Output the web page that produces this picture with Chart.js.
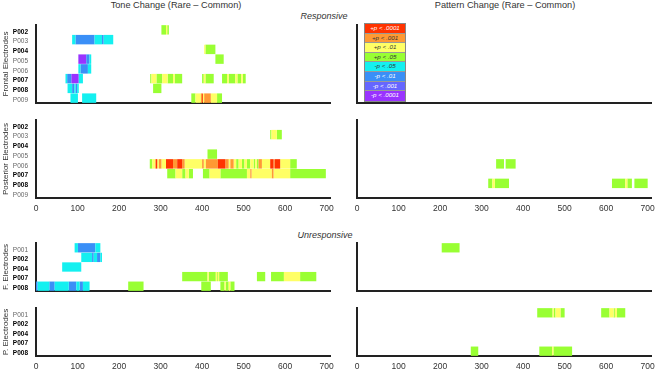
<!DOCTYPE html>
<html><head><meta charset="utf-8">
<script src="https://cdn.jsdelivr.net/npm/chart.js@4.4.1/dist/chart.umd.min.js"></script>
<style>
body{margin:0;background:#fff;width:656px;height:372px;overflow:hidden;position:relative;font-family:'Liberation Sans',Arial,sans-serif}
canvas{position:absolute}
.t{position:absolute;white-space:nowrap;color:#333;transform:translateX(-50%);line-height:1}
#legend{position:absolute;left:364px;top:23px;width:42px;border:1px solid #888;box-sizing:border-box}
#legend div{height:9.6px;box-sizing:border-box;border-bottom:1px solid #999;font-style:italic;font-size:6.2px;line-height:8.6px;text-align:center}
</style></head><body>
<div class="t" style="left:176px;top:1px;font-size:9.2px">Tone Change (Rare – Common)</div>
<div class="t" style="left:505px;top:1px;font-size:9.2px">Pattern Change (Rare – Common)</div>
<div class="t" style="left:324px;top:12px;font-size:9px;font-style:italic">Responsive</div>
<div class="t" style="left:325px;top:230.5px;font-size:9px;font-style:italic">Unresponsive</div>
<div id="legend"></div>
<canvas id="c1"></canvas><canvas id="c2"></canvas><canvas id="c3"></canvas><canvas id="c4"></canvas>
<canvas id="c5"></canvas><canvas id="c6"></canvas><canvas id="c7"></canvas><canvas id="c8"></canvas>
<script>
// ---------- data ----------
const respElectrodes = ['P002','P003','P004','P005','P006','P007','P008','P009'];
const respBold = [true,false,true,false,false,true,true,false];
const unrespElectrodes = ['P001','P002','P004','P007','P008'];
const unrespBold = [false,true,true,true,true];
const xTickValues = [0,100,200,300,400,500,600,700];
// significance levels: +4 +p<.0001, +3 +p<.001, +2 +p<.01, +1 +p<.05, -1 -p<.05, -2 -p<.01, -3 -p<.001, -4 -p<.0001
const levels = [4,3,2,1,-1,-2,-3,-4];
const levelLabels = ['+p < .0001','+p < .001','+p < .01','+p < .05','-p < .05','-p < .01','-p < .001','-p < .0001'];
const levelColors = ['#FF3300','#FF9933','#FFFF66','#99FF33','#14F0F0','#3A8FF7','#6666FF','#9933FF'];
const levelTextColors = ['#fff','#333','#333','#333','#333','#fff','#fff','#fff'];

// segments: [electrode, start ms, end ms, level]
const toneFrontalResp = [
 ['P002',302,313,1],['P002',313,316,2],['P002',316,320,1],
 ['P003',87,95,-1],['P003',95,141,-2],['P003',141,159,-1],['P003',159,163,-2],['P003',163,186,-1],
 ['P004',405,408,2],['P004',408,432,1],
 ['P005',102,121,-4],['P005',121,129,-2],['P005',129,133,-1],['P005',432,452,1],
 ['P006',102,107,-1],['P006',107,125,-2],['P006',125,133,-1],
 ['P007',71,75,-1],['P007',75,85,-2],['P007',85,103,-4],['P007',103,113,-1],
 ['P007',275,278,1],['P007',278,290,2],['P007',290,304,1],['P007',304,317,2],['P007',317,330,1],['P007',330,334,2],['P007',334,352,1],
 ['P007',400,404,1],['P007',404,408,2],['P007',408,428,1],
 ['P007',448,460,1],['P007',460,464,2],['P007',464,480,1],['P007',480,485,2],['P007',485,494,1],['P007',494,498,2],['P007',498,505,1],
 ['P008',76,87,-1],['P008',87,92,-2],['P008',92,95,-1],['P008',95,99,-2],['P008',99,103,-1],['P008',282,302,1],
 ['P009',83,101,-1],['P009',111,145,-1],
 ['P009',374,384,1],['P009',384,397,2],['P009',397,400,3],['P009',400,402,4],['P009',402,405,2],['P009',405,421,3],['P009',421,436,2],['P009',436,448,1]
];
const tonePosteriorResp = [
 ['P003',564,567,1],['P003',567,580,2],['P003',580,592,1],
 ['P005',413,436,1],
 ['P006',274,280,1],['P006',280,288,2],['P006',288,292,4],['P006',292,296,2],['P006',296,302,3],['P006',302,313,2],
 ['P006',313,330,4],['P006',330,340,3],['P006',340,352,4],['P006',352,358,3],['P006',358,400,2],['P006',400,404,3],
 ['P006',404,409,2],['P006',409,438,3],['P006',438,456,4],['P006',456,464,3],['P006',464,468,2],['P006',468,476,3],
 ['P006',476,482,2],['P006',482,488,1],['P006',488,496,2],['P006',496,502,1],['P006',502,508,2],['P006',508,516,1],
 ['P006',516,524,2],['P006',524,528,1],['P006',528,532,2],['P006',532,536,1],['P006',536,544,3],['P006',544,564,2],
 ['P006',564,572,4],['P006',572,575,3],['P006',575,588,4],['P006',588,612,2],['P006',612,628,1],
 ['P007',316,336,1],['P007',336,352,2],['P007',352,360,1],['P007',360,368,2],['P007',368,378,1],
 ['P007',402,418,1],['P007',418,444,2],['P007',444,508,1],['P007',508,516,2],['P007',516,519,3],['P007',519,568,2],
 ['P007',568,572,3],['P007',572,612,2],['P007',612,698,1]
];
const patternFrontalResp = [];
const patternPosteriorResp = [
 ['P006',335,354,1],['P006',358,382,1],
 ['P008',316,326,1],['P008',326,332,2],['P008',332,366,1],
 ['P008',614,646,1],['P008',646,651,2],['P008',651,662,1],['P008',668,700,1]
];
const toneFrontalUnresp = [
 ['P001',93,101,-1],['P001',101,143,-2],['P001',143,155,-1],
 ['P002',109,135,-1],['P002',135,139,-2],['P002',139,147,-1],['P002',147,155,-2],['P002',155,159,-1],
 ['P004',63,109,-1],
 ['P007',352,413,1],['P007',413,416,2],['P007',416,433,1],['P007',433,436,2],['P007',436,438,1],['P007',438,441,2],['P007',441,462,1],
 ['P007',532,552,1],['P007',566,597,1],['P007',597,636,2],['P007',636,675,1],
 ['P008',0,4,-2],['P008',4,32,-1],['P008',32,45,-2],['P008',45,79,-1],['P008',79,97,-2],['P008',97,105,-1],['P008',105,113,-2],['P008',113,129,-1],
 ['P008',222,259,1],['P008',398,421,1],
 ['P008',444,454,1],['P008',454,457,2],['P008',457,464,1],['P008',464,468,2],['P008',468,478,1]
];
const tonePosteriorUnresp = [];
const patternFrontalUnresp = [
 ['P001',204,247,1]
];
const patternPosteriorUnresp = [
 ['P001',434,471,1],['P001',471,474,2],['P001',474,478,1],['P001',478,490,2],['P001',490,500,1],
 ['P001',588,608,1],['P001',608,618,2],['P001',618,621,1],['P001',621,626,2],['P001',626,646,1],
 ['P008',274,292,1],['P008',439,470,1],['P008',470,473,2],['P008',473,518,1]
];

// ---------- rendering ----------
Chart.defaults.font.family = "'Liberation Sans', Arial, sans-serif";
const XMAX = 708;

const lg = document.getElementById('legend');
levelLabels.forEach((t,i)=>{
  const d=document.createElement('div');
  d.textContent=t; d.style.background=levelColors[i]; d.style.color=levelTextColors[i];
  if(i===levelLabels.length-1) d.style.borderBottom='none';
  lg.appendChild(d);
});

function panel(id, area, labels, bold, segs, opt){
  const yW = opt.yW, xH = opt.xH, padT = 5, padR = 12;
  const left = area.l - yW, top = area.t - padT;
  const w = Math.round(area.r - left + padR), h = Math.round(area.b - top + xH);
  const cv = document.getElementById(id);
  cv.width = w; cv.height = h;
  cv.style.left = left+'px'; cv.style.top = top+'px';
  cv.style.width = w+'px'; cv.style.height = h+'px';
  const datasets = levels.map((lv,i)=>({
    data: segs.filter(s=>s[3]===lv).map(s=>({y:s[0], x:[s[1], s[2]]})),
    backgroundColor: levelColors[i], borderWidth:0, grouped:false,
    barPercentage:1, categoryPercentage:0.97
  }));
  new Chart(cv, {
    type:'bar',
    data:{labels, datasets},
    options:{
      indexAxis:'y', responsive:false, animation:false, devicePixelRatio:1,
      layout:{autoPadding:false, padding:{top:padT, right:padR, left:0, bottom:0}},
      plugins:{legend:{display:false}, tooltip:{enabled:false}},
      scales:{
        x:{type:'linear', min:0, max:XMAX,
           grid:{display:false, drawTicks:false},
           border:{color:'#222', width:2},
           ticks:{display:opt.xTicks, padding:6, maxRotation:0, minRotation:0, autoSkip:false,
                  font:{size:8.5}, color:'#333'},
           afterBuildTicks:s=>{ s.ticks = xTickValues.map(v=>({value:v})); },
           afterFit:s=>{ s.height = xH; s.paddingLeft = 0; s.paddingRight = 0; }},
        y:{type:'category', labels,
           grid:{display:false, drawTicks:false},
           border:{color:'#222', width:2},
           ticks:{display:!!opt.yTicks, padding:8, labelOffset:2, autoSkip:false,
                  font:c=>({size:6.5, weight: bold && bold[c.index] ? 'bold':'normal'}),
                  color:c=> bold && bold[c.index] ? '#000':'#666'},
           title:{display:!!opt.title, text:opt.title||'', font:{size:8}, color:'#333', padding:{top:1,bottom:0}},
           afterFit:s=>{ s.width = yW; s.paddingTop = 0; s.paddingBottom = 0; }}
      }
    }
  });
}
const L = {yW:36, yTicks:true};
const R = {yW:4, yTicks:false};
panel('c1',{l:36,t:25,r:330,b:102.5},respElectrodes,respBold,toneFrontalResp,{...L,xH:3,xTicks:false,title:'Frontal Electrodes'});
panel('c2',{l:36,t:119.8,r:330,b:198},respElectrodes,respBold,tonePosteriorResp,{...L,xH:17,xTicks:true,title:'Posterior Electrodes'});
panel('c3',{l:36,t:242.7,r:330,b:290.8},unrespElectrodes,unrespBold,toneFrontalUnresp,{...L,xH:3,xTicks:false,title:'F. Electrodes'});
panel('c4',{l:36,t:308.2,r:330,b:356.5},unrespElectrodes,unrespBold,tonePosteriorUnresp,{...L,xH:16,xTicks:true,title:'P. Electrodes'});
panel('c5',{l:357,t:25,r:651,b:102.5},respElectrodes,null,patternFrontalResp,{...R,xH:3,xTicks:false});
panel('c6',{l:357,t:119.8,r:651,b:198},respElectrodes,null,patternPosteriorResp,{...R,xH:17,xTicks:true});
panel('c7',{l:357,t:242.7,r:651,b:290.8},unrespElectrodes,null,patternFrontalUnresp,{...R,xH:3,xTicks:false});
panel('c8',{l:357,t:308.2,r:651,b:356.5},unrespElectrodes,null,patternPosteriorUnresp,{...R,xH:16,xTicks:true});
</script>
</body></html>
